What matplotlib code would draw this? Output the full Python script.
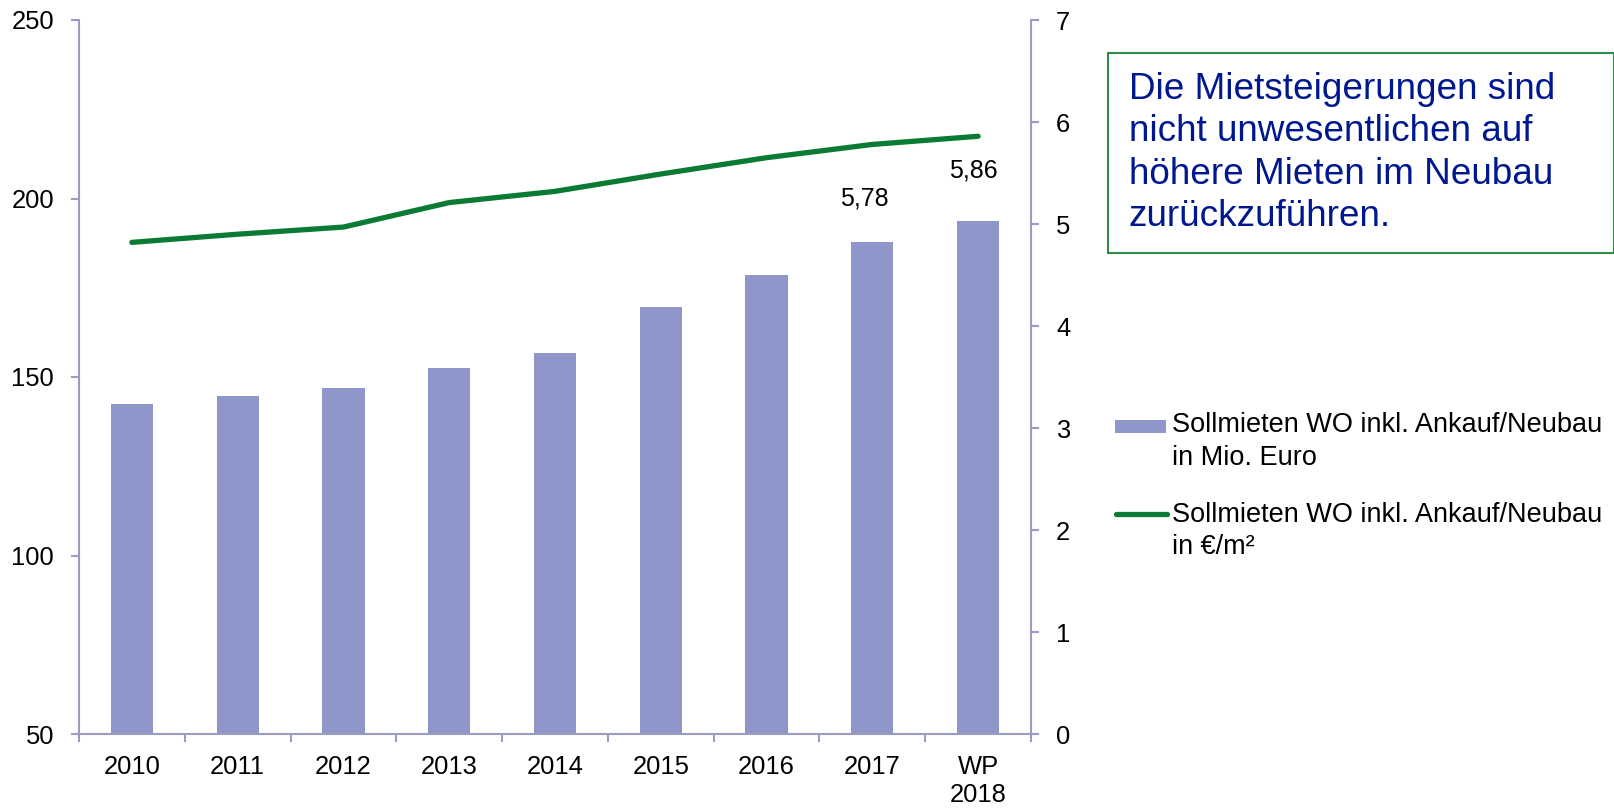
import matplotlib
matplotlib.use("Agg")
import matplotlib.pyplot as plt
from matplotlib.patches import Rectangle
from matplotlib.lines import Line2D

plt.rcParams['font.family'] = ['Liberation Sans', 'DejaVu Sans']

# data
years = ["2010", "2011", "2012", "2013", "2014", "2015", "2016", "2017", "WP\n2018"]
mieten_mio = [142.3, 144.6, 146.9, 152.4, 156.7, 169.7, 178.6, 187.8, 193.6]
mieten_qm = [4.82, 4.90, 4.97, 5.21, 5.32, 5.49, 5.65, 5.78, 5.86]
label_idx = [7, 8]
label_offsets = [(-8, -54), (-5, -34)]

legend_lines = [("Sollmieten WO inkl. Ankauf/Neubau", 425), ("in Mio. Euro", 458),
                ("Sollmieten WO inkl. Ankauf/Neubau", 515), ("in €/m²", 547)]

bar_color = "#8E96CA"
line_color = "#0B7B34"
axis_color = "#9A9CC4"
note_color = "#00188F"

W, H = 1614, 808
fig = plt.figure(figsize=(W / 100, H / 100), dpi=100)
ax = fig.add_axes([79 / W, 1 - 734 / H, (1031 - 79) / W, (734 - 20) / H])
ax2 = ax.twinx()

x = list(range(len(years)))
ax.bar(x, mieten_mio, width=0.4, color=bar_color, zorder=2)
ax.set_ylim(50, 250)
ax.set_yticks([50, 100, 150, 200, 250])
ax.set_xlim(-0.5, len(years) - 0.5)
ax.set_xticks(x)
ax.set_xticklabels(years, linespacing=1.22)
ax.set_xticks([i + 0.5 for i in range(-1, len(years))], minor=True)

ax2.plot(x, mieten_qm, color=line_color, lw=3.8, solid_capstyle='round', zorder=3)
ax2.set_ylim(0, 7)
ax2.set_yticks(range(8))
for i, (dx, dy) in zip(label_idx, label_offsets):
    ax2.annotate(f"{mieten_qm[i]:.2f}".replace(".", ","), (x[i], mieten_qm[i]),
                 xytext=(dx, dy), textcoords='offset pixels',
                 ha='center', va='center', fontsize=18)

for a in (ax, ax2):
    for s in a.spines.values():
        s.set_visible(False)
ax.spines['left'].set_visible(True)
ax.spines['bottom'].set_visible(True)
ax2.spines['right'].set_visible(True)
for s in (ax.spines['left'], ax.spines['bottom'], ax2.spines['right']):
    s.set_color(axis_color)
    s.set_linewidth(1.5)

ax.tick_params(axis='y', direction='out', length=6, width=1.5, color=axis_color,
               labelsize=18.4, pad=12)
ax2.tick_params(axis='y', direction='out', length=6, width=1.5, color=axis_color,
                labelsize=18.4, pad=12)
ax.tick_params(axis='x', which='major', length=0, labelsize=18.4, pad=15)
ax.tick_params(axis='x', which='minor', direction='out', length=6, width=1.5,
               color=axis_color)

# note box
fig.add_artist(Rectangle((1108 / W, 1 - 253 / H), (W - 1108) / W, 200 / H,
                         transform=fig.transFigure, fill=False, ec="#2E8B4A", lw=1.5))
fig.text(1129 / W, 1 - 153 / H,
         "Die Mietsteigerungen sind\nnicht unwesentlichen auf\nhöhere Mieten im Neubau\nzurückzuführen.",
         color=note_color, fontsize=26.6, va='center', ha='left', linespacing=1.27)

# legend
fig.add_artist(Rectangle((1115 / W, 1 - 433 / H), 51 / W, 13 / H,
                         transform=fig.transFigure, color=bar_color, lw=0))
fig.add_artist(Line2D([1116 / W, 1167 / W], [1 - 514 / H, 1 - 514 / H],
                      transform=fig.transFigure, color=line_color, lw=3.8,
                      solid_capstyle='round'))
for txt, yy in legend_lines:
    fig.text(1172 / W, 1 - yy / H, txt, fontsize=19.5, va='center', ha='left')

fig.savefig("out.png", dpi=100)
